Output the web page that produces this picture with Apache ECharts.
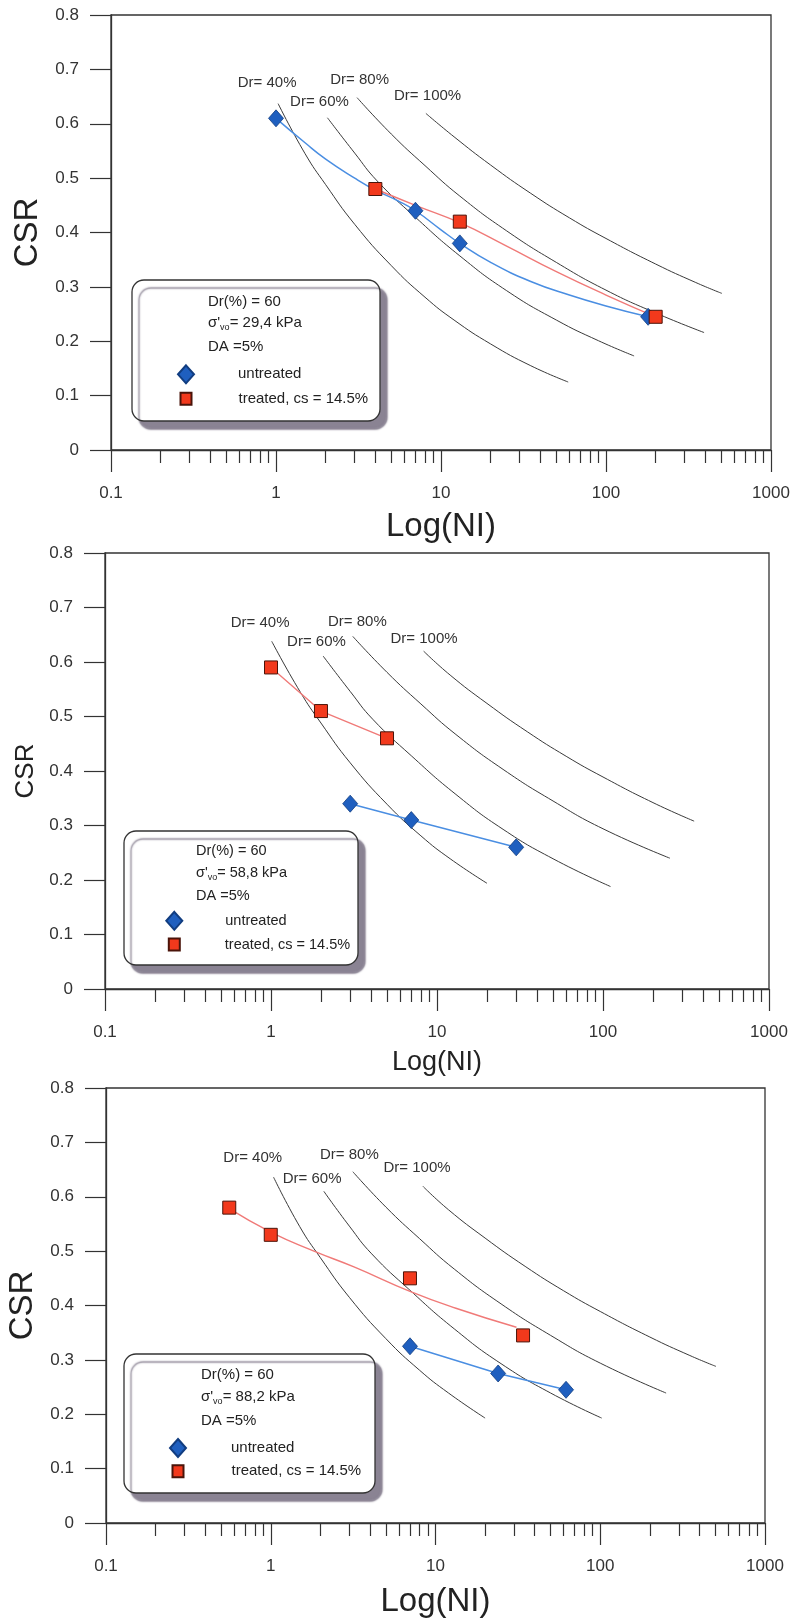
<!DOCTYPE html>
<html>
<head>
<meta charset="utf-8">
<script src="https://cdn.jsdelivr.net/npm/echarts@6/dist/echarts.min.js"></script>
<style>
html,body{margin:0;padding:0;background:#fff;}
#c{width:794px;height:1619px;}
</style>
</head>
<body>
<div id="c"></div>
<script>
// ---------- text / labels ----------
const drLabels = ['Dr= 40%', 'Dr= 60%', 'Dr= 80%', 'Dr= 100%'];
const legendNames = ['untreated', 'treated, cs = 14.5%'];
const headerDr = 'Dr(%) = 60';
const sigmaValues = ['29,4 kPa', '58,8 kPa', '88,2 kPa'];
const daText = 'DA =5%';
const xName = 'Log(NI)';
const yName = 'CSR';
const xTickLabels = {'0.1': '0.1', '1': '1', '10': '10', '100': '100', '1000': '1000'};

// ---------- chart 1 (σ'vo = 29,4 kPa) ----------
const untreated1 = [[1, 0.61], [7, 0.44], [13, 0.38], [180, 0.245]];
const treated1 = [[4, 0.48], [13, 0.42], [200, 0.245]];
// fitted curves as drawn in the figure
const untreatedFit1 = [[1, 0.61], [1.5, 0.565], [2, 0.535], [3, 0.5], [4, 0.478], [5.5, 0.458], [7, 0.44], [10, 0.405], [13, 0.38], [20, 0.345], [35, 0.31], [60, 0.285], [100, 0.265], [180, 0.245]];
const treatedFit1 = [[4, 0.48], [7, 0.45], [13, 0.418], [25, 0.375], [50, 0.328], [100, 0.285], [200, 0.245]];
const dr40_1 = [[1.03, 0.637], [1.5, 0.545], [2, 0.488], [3, 0.415], [5, 0.339], [8, 0.281], [12, 0.239], [20, 0.195], [35, 0.155], [59, 0.125]];
const dr60_1 = [[2.05, 0.611], [3, 0.546], [4.1, 0.495], [7, 0.428], [13, 0.357], [25, 0.293], [50, 0.239], [90, 0.201], [148, 0.173]];
const dr80_1 = [[3.1, 0.648], [5, 0.581], [8, 0.523], [13, 0.467], [25, 0.403], [50, 0.345], [100, 0.294], [200, 0.252], [393, 0.216]];
const dr100_1 = [[8.1, 0.619], [12, 0.576], [20, 0.524], [35, 0.472], [60, 0.427], [100, 0.389], [200, 0.342], [350, 0.308], [504, 0.288]];

// ---------- chart 2 (σ'vo = 58,8 kPa) ----------
const untreated2 = [[3, 0.34], [7, 0.31], [30, 0.26]];
const treated2 = [[1, 0.59], [2, 0.51], [5, 0.46]];
const dr40_2 = [[1.01, 0.638], [1.5, 0.545], [2, 0.488], [3, 0.415], [5, 0.339], [8, 0.281], [12, 0.239], [20, 0.194]];
const dr60_2 = [[2.06, 0.611], [3, 0.546], [4.1, 0.495], [7, 0.428], [13, 0.357], [25, 0.293], [50, 0.239], [111, 0.188]];
const dr80_2 = [[3.11, 0.647], [5, 0.581], [8, 0.523], [13, 0.467], [25, 0.403], [50, 0.345], [100, 0.294], [253, 0.24]];
const dr100_2 = [[8.3, 0.62], [12, 0.576], [20, 0.524], [35, 0.472], [60, 0.427], [100, 0.389], [200, 0.342], [354, 0.308]];

// ---------- chart 3 (σ'vo = 88,2 kPa) ----------
const untreated3 = [[7, 0.325], [24, 0.275], [62, 0.245]];
const treated3 = [[0.56, 0.58], [1, 0.53], [7, 0.45], [34, 0.345]];
const treatedFit3 = [[0.56, 0.578], [1, 0.535], [1.83, 0.5], [3.2, 0.471], [7, 0.426], [13.3, 0.395], [31, 0.36]];
const dr40_3 = [[1.04, 0.636], [1.5, 0.545], [2, 0.488], [3, 0.415], [5, 0.339], [8, 0.281], [12, 0.239], [20, 0.193]];
const dr60_3 = [[2.1, 0.61], [3, 0.546], [4.1, 0.495], [7, 0.428], [13, 0.357], [25, 0.293], [50, 0.239], [102, 0.193]];
const dr80_3 = [[3.15, 0.646], [5, 0.581], [8, 0.523], [13, 0.467], [25, 0.403], [50, 0.345], [100, 0.294], [251, 0.239]];
const dr100_3 = [[8.4, 0.619], [12, 0.576], [20, 0.524], [35, 0.472], [60, 0.427], [100, 0.389], [200, 0.342], [350, 0.308], [504, 0.288]];

// untreatedLine / treatedLine: the curve drawn through (or fitted to) each series
const panels = [
  {untreated: untreated1, treated: treated1, untreatedLine: untreatedFit1, treatedLine: treatedFit1, lineSmooth: true,
   dr: [dr40_1, dr60_1, dr80_1, dr100_1]},
  {untreated: untreated2, treated: treated2, untreatedLine: untreated2, treatedLine: treated2, lineSmooth: false,
   dr: [dr40_2, dr60_2, dr80_2, dr100_2]},
  {untreated: untreated3, treated: treated3, untreatedLine: untreated3, treatedLine: treatedFit3, lineSmooth: 'red',
   dr: [dr40_3, dr60_3, dr80_3, dr100_3]}
];

// ---------- layout (pixels) ----------
const FONT = '"Liberation Sans", Arial, Helvetica, sans-serif';
const layout = [
  {grid: {left: 111, top: 15, width: 660, height: 435}, nameSize: 33, yNameSize: 33, nameGap: 60, yNameGap: 66,
   box: [132, 280, 248, 141], textX: 208, textY: [301.7, 323.3, 347.3], fs: 15,
   legD: [177, 364.3, 39], legS: [179.5, 391.3, 42],
   drOff: [[-11, -21], [-8, -16], [2.5, -17.6], [1.7, -17.7]]},
  {grid: {left: 105, top: 553, width: 664, height: 436}, nameSize: 27, yNameSize: 26, nameGap: 60, yNameGap: 65,
   box: [124, 831, 234, 134], textX: 196, textY: [851, 872.7, 895.8], fs: 14.5,
   legD: [165.3, 910.8, 38], legS: [167.8, 937, 40],
   drOff: [[-11.6, -18.6], [-6.6, -14.4], [4.6, -14.8], [0.5, -12]]},
  {grid: {left: 106, top: 1088, width: 659, height: 435}, nameSize: 33, yNameSize: 33, nameGap: 62, yNameGap: 63,
   box: [124, 1354, 251, 139], textX: 201, textY: [1375, 1397, 1421], fs: 15,
   legD: [169, 1438, 40], legS: [171.5, 1463.8, 43],
   drOff: [[-20.8, -18.9], [-11.7, -12], [-3.5, -17.2], [-6, -18.6]]}
];

const AX = '#333';
const grids = [], xAxes = [], yAxes = [], series = [], legends = [], graphics = [];

const blueFill = '#1f5fbf', blueBorder = '#113d80', blueLine = '#4a8ee2';
const redFill = '#f2391c', redBorder = '#4a140a', redLine = '#f07a78';

function fmtX(v) {
  const key = String(+Number(v).toPrecision(6));
  return xTickLabels[key] !== undefined ? xTickLabels[key] : key;
}

panels.forEach((p, i) => {
  const l = layout[i];
  grids.push(Object.assign({show: true, borderColor: AX, borderWidth: 1.3, containLabel: false, outerBoundsMode: 'none'}, l.grid));
  xAxes.push({
    type: 'log', logBase: 10, min: 0.1, max: 1000, gridIndex: i,
    name: xName, nameLocation: 'middle', nameGap: l.nameGap,
    nameTextStyle: {fontSize: l.nameSize, color: '#222', fontFamily: FONT},
    axisLine: {show: true, onZero: false, lineStyle: {color: AX, width: 1.3}},
    axisTick: {show: true, length: 22, lineStyle: {color: AX, width: 1.2}},
    minorTick: {show: true, splitNumber: 9, length: 13, lineStyle: {color: AX, width: 1.2}},
    axisLabel: {margin: 35, fontSize: 17, color: '#333', fontFamily: FONT, formatter: fmtX},
    splitLine: {show: false}, minorSplitLine: {show: false}
  });
  yAxes.push({
    type: 'value', min: 0, max: 0.8, interval: 0.1, gridIndex: i,
    name: yName, nameLocation: 'middle', nameGap: l.yNameGap,
    nameTextStyle: {fontSize: l.yNameSize, color: '#222', fontFamily: FONT},
    axisLine: {show: true, lineStyle: {color: AX, width: 1.3}},
    axisTick: {show: true, length: 21, inside: false, lineStyle: {color: AX, width: 1.2}},
    axisLabel: {margin: 32, fontSize: 17, color: '#333', fontFamily: FONT},
    splitLine: {show: false}
  });

  // Dr reference curves with their labels
  p.dr.forEach((arr, k) => {
    series.push({
      type: 'line', xAxisIndex: i, yAxisIndex: i, data: arr, smooth: true,
      symbol: 'none', showSymbol: false, silent: true, z: 2,
      lineStyle: {color: '#3a3a3a', width: 1},
      markPoint: {
        symbol: 'circle', symbolSize: 1, silent: true,
        itemStyle: {color: 'rgba(0,0,0,0)'},
        label: {show: true, position: 'inside', offset: l.drOff[k], formatter: drLabels[k],
                color: '#333', fontSize: 15, fontFamily: FONT},
        data: [{coord: arr[0]}]
      }
    });
  });

  // connecting / fitted lines
  series.push({
    type: 'line', xAxisIndex: i, yAxisIndex: i, data: p.untreatedLine,
    smooth: p.lineSmooth === true, symbol: 'none', showSymbol: false, silent: true, z: 4,
    lineStyle: {color: blueLine, width: 1.5}
  });
  series.push({
    type: 'line', xAxisIndex: i, yAxisIndex: i, data: p.treatedLine,
    smooth: p.lineSmooth === true || p.lineSmooth === 'red', symbol: 'none', showSymbol: false, silent: true, z: 4,
    lineStyle: {color: redLine, width: 1.4}
  });

  // markers
  series.push({
    type: 'scatter', name: legendNames[0], xAxisIndex: i, yAxisIndex: i, data: p.untreated,
    symbol: 'diamond', symbolSize: [15, 17], z: 6,
    itemStyle: {color: blueFill, borderColor: blueBorder, borderWidth: 0.8, opacity: 1}
  });
  series.push({
    type: 'scatter', name: legendNames[1], xAxisIndex: i, yAxisIndex: i, data: p.treated,
    symbol: 'rect', symbolSize: 13, z: 7,
    itemStyle: {color: redFill, borderColor: redBorder, borderWidth: 1, opacity: 1}
  });

  // legend box + header text
  graphics.push({
    type: 'rect', z: 1, silent: true,
    shape: {x: l.box[0], y: l.box[1], width: l.box[2], height: l.box[3], r: 12},
    style: {fill: '#fff', stroke: '#333', lineWidth: 1.3,
            shadowBlur: 1.5, shadowOffsetX: 7, shadowOffsetY: 8, shadowColor: 'rgba(125,118,135,0.9)'}
  });
  graphics.push({type: 'text', z: 2, silent: true, x: l.textX, y: l.textY[0],
    style: {text: headerDr, fill: '#222', font: l.fs + 'px ' + FONT, verticalAlign: 'middle'}});
  graphics.push({type: 'text', z: 2, silent: true, x: l.textX, y: l.textY[1],
    style: {text: '{a|σ\'}{s|vo}{a|= ' + sigmaValues[i] + '}', fill: '#222', verticalAlign: 'middle',
      rich: {a: {fontSize: l.fs, fontFamily: FONT, lineHeight: 18, fill: '#222'},
             s: {fontSize: 9, fontFamily: FONT, lineHeight: 18, verticalAlign: 'bottom', fill: '#222'}}}});
  graphics.push({type: 'text', z: 2, silent: true, x: l.textX, y: l.textY[2],
    style: {text: daText, fill: '#222', font: l.fs + 'px ' + FONT, verticalAlign: 'middle'}});

  [0, 1].forEach(w => {
    const isD = w === 0;
    const pos = isD ? l.legD : l.legS;
    legends.push({
      left: pos[0], top: pos[1], padding: 0, orient: 'vertical', selectedMode: false,
      itemWidth: isD ? 16 : 11, itemHeight: isD ? 18 : 12,
      data: [{name: legendNames[w], icon: isD ? 'diamond' : 'rect'}],
      formatter: '{t|{name}}',
      textStyle: {rich: {t: {padding: [0, 0, 0, pos[2]], fontSize: l.fs, lineHeight: 16, color: '#222', fontFamily: FONT}}}
    });
  });
});

const chart = echarts.init(document.getElementById('c'), null, {renderer: 'canvas'});
chart.setOption({
  animation: false,
  backgroundColor: '#fff',
  textStyle: {fontFamily: FONT},
  grid: grids, xAxis: xAxes, yAxis: yAxes,
  legend: legends, series: series, graphic: graphics
});
</script>
</body>
</html>
